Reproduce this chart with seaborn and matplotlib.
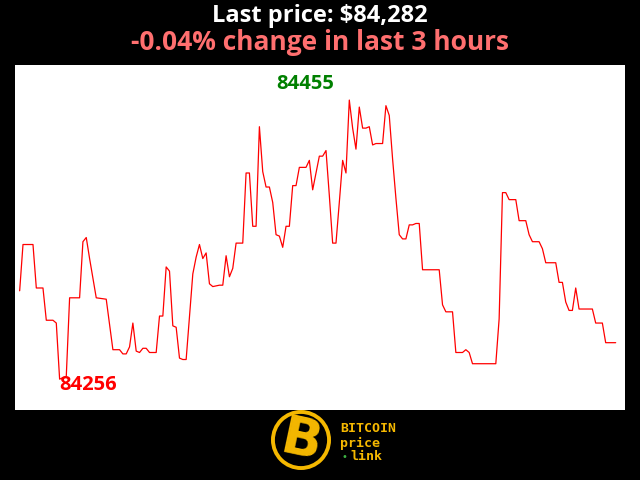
import numpy as np
import pandas as pd
import matplotlib
matplotlib.use("Agg")
import matplotlib.pyplot as plt
from matplotlib.patches import Circle
import seaborn as sns

# minute index (0..179 over the last 3 hours) and price at each turning point
minutes = [0, 1, 4, 5, 7, 8, 10, 11, 12, 14, 15, 18, 19, 20, 21, 23, 26, 28, 30, 31,
           32, 33, 34, 35, 36, 37, 38, 39, 41, 42, 43, 44, 45, 46, 47, 48, 49, 50, 52, 53,
           54, 55, 56, 57, 58, 60, 61, 62, 63, 64, 65, 67, 68, 69, 70, 71, 72, 73, 74, 75,
           76, 77, 78, 79, 80, 81, 82, 83, 84, 86, 87, 88, 90, 91, 92, 93, 94, 95, 96, 97,
           98, 99, 100, 101, 102, 103, 104, 105, 106, 107, 109, 110, 111, 112, 113, 114, 115, 116, 117, 118,
           119, 120, 121, 126, 127, 128, 130, 131, 133, 134, 135, 136, 143, 144, 145, 146, 147, 149, 150, 152,
           153, 154, 156, 157, 158, 161, 162, 163, 164, 165, 166, 167, 168, 172, 173, 175, 176, 179]
prices = [84319, 84352, 84352, 84321, 84321, 84298, 84298, 84296, 84256, 84258, 84314, 84314, 84354, 84357, 84342, 84314, 84313, 84277, 84277, 84274,
          84274, 84279, 84296, 84276, 84275, 84278, 84278, 84275, 84275, 84301, 84301, 84336, 84333, 84294, 84293, 84271, 84270, 84270, 84331, 84343,
          84352, 84342, 84346, 84324, 84322, 84323, 84323, 84344, 84329, 84335, 84353, 84353, 84403, 84403, 84365, 84365, 84436, 84404, 84393, 84393,
          84382, 84359, 84358, 84350, 84365, 84365, 84394, 84394, 84407, 84407, 84412, 84391, 84415, 84415, 84419, 84387, 84353, 84353, 84382, 84412,
          84403, 84455, 84435, 84420, 84450, 84435, 84435, 84436, 84423, 84424, 84424, 84451, 84444, 84413, 84385, 84359, 84356, 84356, 84366, 84366,
          84367, 84367, 84334, 84334, 84309, 84304, 84304, 84275, 84275, 84277, 84275, 84267, 84267, 84299, 84389, 84389, 84384, 84384, 84369, 84369,
          84359, 84354, 84354, 84349, 84339, 84339, 84325, 84325, 84311, 84305, 84305, 84321, 84306, 84306, 84296, 84296, 84282, 84282]

last_price = 84282
change_pct = -0.04

df = pd.DataFrame({"minute": minutes, "price": prices})

sns.set_style("white")
plt.rcParams["font.family"] = ["Open Sans", "DejaVu Sans"]

fig = plt.figure(figsize=(6.4, 4.8), dpi=100, facecolor="black")
ax = fig.add_axes([15 / 640, 70 / 480, 610 / 640, 345 / 480])
ax.set_facecolor("white")

sns.lineplot(data=df, x="minute", y="price", color="red", linewidth=0.9, ax=ax)

ax.set_xlim(-1.4, 181.8)
ax.set_ylim(84234, 84480)
ax.set_xticks([])
ax.set_yticks([])
ax.set_xlabel("")
ax.set_ylabel("")
for s in ax.spines.values():
    s.set_visible(False)

i_max = int(np.argmax(prices))
i_min = int(np.argmin(prices))
ax.annotate(str(prices[i_max]), (minutes[i_max], prices[i_max]),
            xytext=(-44, 16), textcoords="offset pixels",
            ha="center", va="center", color="green",
            fontsize=14.5, fontweight="bold")
ax.annotate(str(prices[i_min]), (minutes[i_min], prices[i_min]),
            xytext=(0, -6), textcoords="offset pixels",
            ha="left", va="center", color="red",
            fontsize=14.5, fontweight="bold")

fig.text(0.5, 1 - 16 / 480, f"Last price: ${last_price:,}", ha="center", va="center",
         color="white", fontsize=17, fontweight="bold")
fig.text(0.5, 1 - 43 / 480, f"{change_pct:.2f}% change in last 3 hours", ha="center",
         va="center", color="#ff6f6f", fontsize=19, fontweight="bold")

# logo
gold = "#f5b800"
lax = fig.add_axes([268 / 640, 2 / 480, 66 / 640, 76 / 480])
lax.set_xlim(-1.1, 1.1)
lax.set_ylim(-1.1, 1.1)
lax.set_aspect("equal")
lax.axis("off")
lax.add_patch(Circle((0, 0), 1.0, facecolor=gold, edgecolor="none"))
lax.add_patch(Circle((0, 0), 0.87, facecolor="black", edgecolor="none"))
lax.text(0.0, -0.03, "B", ha="center", va="center", color=gold, fontsize=38,
         fontweight="bold", rotation=-12, family="DejaVu Sans")

mono = dict(family="DejaVu Sans Mono", fontweight="bold", fontsize=9.5, color=gold, ha="left", va="center")
fig.text(340 / 640, 1 - 429 / 480, "BITCOIN", **mono)
fig.text(340 / 640, 1 - 443 / 480, "price", **mono)
fig.text(350 / 640, 1 - 457 / 480, "link", **mono)
fig.text(344 / 640, 1 - 457 / 480, "•", family="DejaVu Sans", fontsize=7, color="#3cb043",
         ha="center", va="center")

fig.savefig("out.png", dpi=100, facecolor="black")
